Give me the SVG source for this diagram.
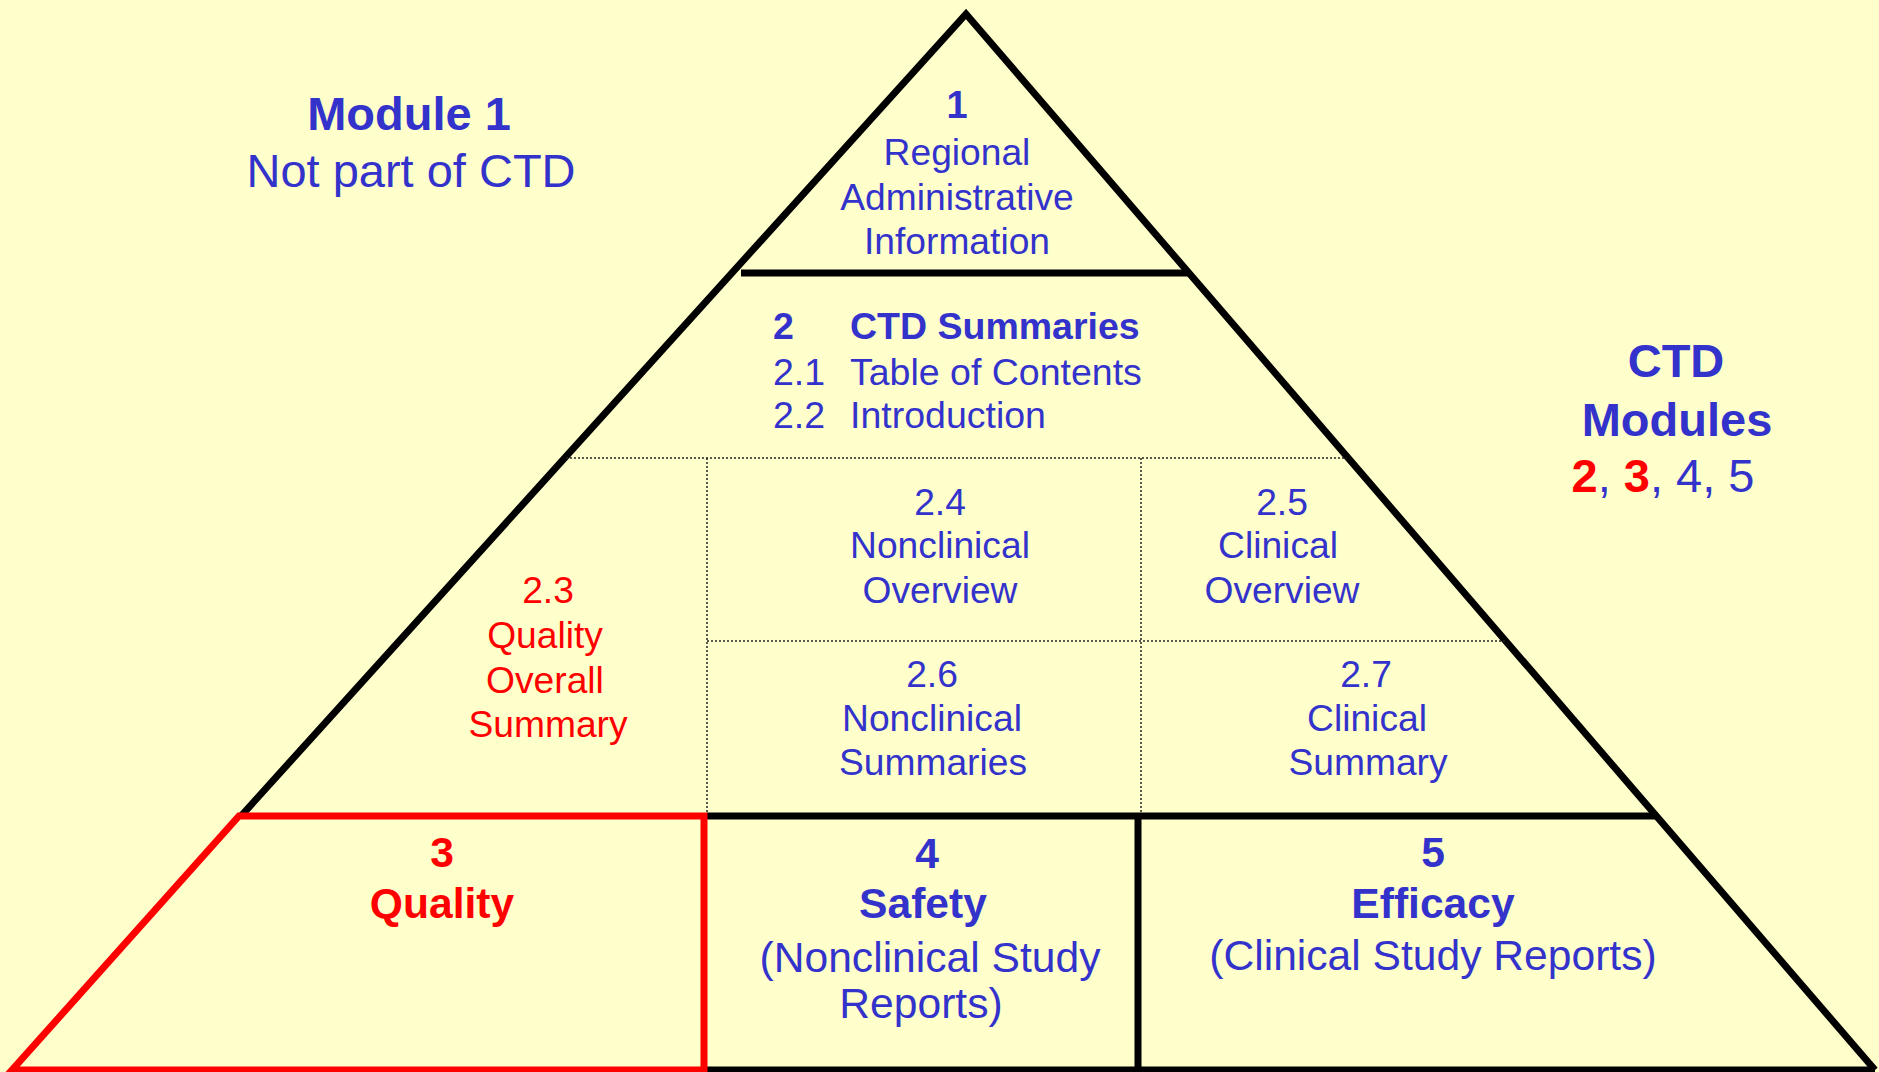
<svg xmlns="http://www.w3.org/2000/svg" width="1879" height="1072" viewBox="0 0 1879 1072">
<style>
text{font-family:"Liberation Sans",Arial,sans-serif;text-anchor:middle;fill:#3333CC}
.b{font-weight:bold}
.r{fill:#FF0000}
.s{font-size:37.2px}
.m{font-size:42.6px}
.l{font-size:47px}
.thick{stroke:#000;stroke-width:7;fill:none}
.red{stroke:#FF0000;stroke-width:7;fill:none}
.dot{stroke:#222;stroke-width:1.5;stroke-dasharray:2 2;fill:none}
</style>
<rect x="0" y="0" width="1879" height="1072" fill="#FFFFCC"/>
<g id="connectors">
<polyline class="thick" points="241,816 966,14 1875,1070"/>
<line class="thick" x1="741" y1="273" x2="1188" y2="273"/>
<line class="dot" x1="566" y1="458" x2="1347" y2="458"/>
<line class="dot" x1="707" y1="458" x2="707" y2="813"/>
<line class="dot" x1="1141" y1="458" x2="1141" y2="813"/>
<line class="dot" x1="707" y1="641" x2="1505" y2="641"/>
<line class="thick" x1="707" y1="816" x2="1657" y2="816"/>
<line class="thick" x1="1138" y1="816" x2="1138" y2="1070"/>
<line class="thick" x1="704" y1="1070" x2="1875" y2="1070"/>
<polygon class="red" points="239,816 704,816 704,1070 12,1070"/>
</g>
<g id="module1-label">
<text class="b l" x="409" y="130">Module 1</text>
<text class="l" x="411" y="187">Not part of CTD</text>
</g>
<g id="ctd-modules-label">
<text class="b l" x="1676" y="377">CTD</text>
<text class="b l" x="1677" y="436">Modules</text>
<text class="l" x="1663" y="492"><tspan class="b r">2</tspan>, <tspan class="b r">3</tspan>, 4, 5</text>
</g>
<g id="node-1">
<text class="b" style="font-size:38px" x="957" y="118">1</text>
<text class="s" x="957" y="165">Regional</text>
<text class="s" x="957" y="210">Administrative</text>
<text class="s" x="957" y="254">Information</text>
</g>
<g id="node-2">
<text class="b" style="font-size:37.5px;text-anchor:start" x="773" y="339">2</text>
<text class="b" style="font-size:37.5px;text-anchor:start" x="850" y="339">CTD Summaries</text>
<text style="font-size:37.5px;text-anchor:start" x="773" y="385">2.1</text>
<text style="font-size:37.5px;text-anchor:start" x="850" y="385">Table of Contents</text>
<text style="font-size:37.5px;text-anchor:start" x="773" y="428">2.2</text>
<text style="font-size:37.5px;text-anchor:start" x="850" y="428">Introduction</text>
</g>
<g id="node-2-3">
<text class="s r" x="548" y="603">2.3</text>
<text class="s r" x="545" y="648">Quality</text>
<text class="s r" x="545" y="693">Overall</text>
<text class="s r" x="548" y="737">Summary</text>
</g>
<g id="node-2-4">
<text class="s" x="940" y="515">2.4</text>
<text class="s" x="940" y="558">Nonclinical</text>
<text class="s" x="940" y="603">Overview</text>
</g>
<g id="node-2-5">
<text class="s" x="1282" y="515">2.5</text>
<text class="s" x="1278" y="558">Clinical</text>
<text class="s" x="1282" y="603">Overview</text>
</g>
<g id="node-2-6">
<text class="s" x="932" y="687">2.6</text>
<text class="s" x="932" y="731">Nonclinical</text>
<text class="s" x="933" y="775">Summaries</text>
</g>
<g id="node-2-7">
<text class="s" x="1366" y="687">2.7</text>
<text class="s" x="1367" y="731">Clinical</text>
<text class="s" x="1368" y="775">Summary</text>
</g>
<g id="node-3">
<text class="b m r" x="442" y="867">3</text>
<text class="b m r" x="442" y="918">Quality</text>
</g>
<g id="node-4">
<text class="b m" x="927" y="868">4</text>
<text class="b m" x="923" y="918">Safety</text>
<text class="m" x="930" y="972">(Nonclinical Study</text>
<text class="m" x="921" y="1018">Reports)</text>
</g>
<g id="node-5">
<text class="b m" x="1433" y="867">5</text>
<text class="b m" x="1433" y="918">Efficacy</text>
<text class="m" x="1433" y="970">(Clinical Study Reports)</text>
</g>
</svg>
